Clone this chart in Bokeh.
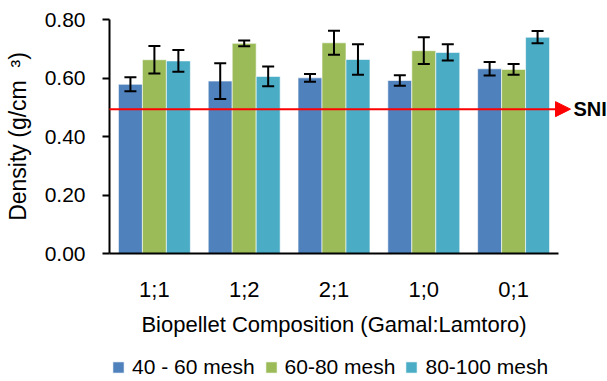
from bokeh.plotting import figure
from bokeh.models import (Range1d, FixedTicker, NumeralTickFormatter, ColumnDataSource,
                          Whisker, TeeHead, Arrow, NormalHead, Label, Legend, LegendItem)
from bokeh.embed import file_html
from bokeh.resources import INLINE

# ---- data ----
categories = ["1;1", "1;2", "2;1", "1;0", "0;1"]
series_names = ["40 - 60 mesh", "60-80 mesh", "80-100 mesh"]
mesh_40_60 = [0.580, 0.591, 0.602, 0.593, 0.633]
mesh_40_60_err = [0.024, 0.061, 0.013, 0.018, 0.023]
mesh_60_80 = [0.664, 0.720, 0.722, 0.695, 0.631]
mesh_60_80_err = [0.047, 0.010, 0.041, 0.046, 0.018]
mesh_80_100 = [0.660, 0.607, 0.665, 0.689, 0.741]
mesh_80_100_err = [0.037, 0.034, 0.052, 0.028, 0.021]
sni_value = 0.495
y_ticks = [0.0, 0.2, 0.4, 0.6, 0.8]

colors = ["#4F81BD", "#9BBB59", "#4BACC6"]
FONT = "Liberation Sans"

# frame covers the whole canvas; axes are pinned at x=0.5 and y=0
p = figure(width=607, height=381, title=None,
           x_range=Range1d(-0.7138, 6.0457), y_range=Range1d(-0.4370, 0.8667),
           output_backend="svg", toolbar_location=None,
           min_border_left=0, min_border_right=0, min_border_top=0, min_border_bottom=0)
p.outline_line_color = None
p.xgrid.visible = False
p.ygrid.visible = False
p.background_fill_color = "white"

bar_w = 0.267
offsets = [-bar_w, 0.0, bar_w]
all_vals = [mesh_40_60, mesh_60_80, mesh_80_100]
all_errs = [mesh_40_60_err, mesh_60_80_err, mesh_80_100_err]
renderers = []
for i in range(3):
    xs = [k + 1 + offsets[i] for k in range(len(categories))]
    vals = all_vals[i]
    errs = all_errs[i]
    src = ColumnDataSource(dict(x=xs, top=vals,
                                upper=[v + e for v, e in zip(vals, errs)],
                                lower=[v - e for v, e in zip(vals, errs)]))
    r = p.vbar(x="x", top="top", width=bar_w, bottom=0, source=src,
               fill_color=colors[i], line_color="white", line_width=1, line_alpha=0.6)
    renderers.append(r)
    w = Whisker(base="x", upper="upper", lower="lower", source=src, level="annotation",
                line_color="black", line_width=2,
                upper_head=TeeHead(size=12, line_color="black", line_width=2),
                lower_head=TeeHead(size=12, line_color="black", line_width=2))
    p.add_layout(w)

# SNI reference arrow
arrow = Arrow(x_start=0.5, y_start=sni_value, x_end=5.634, y_end=sni_value,
              line_color="#FF0000", line_width=2, level="annotation",
              end=NormalHead(size=15, fill_color="#FF0000", line_color="#FF0000"))
p.add_layout(arrow)
p.add_layout(Label(x=5.667, y=sni_value, text="SNI", text_font=FONT, text_font_size="20px",
                   text_font_style="bold", text_baseline="middle", text_align="left",
                   text_color="black"))

# axes
p.yaxis.fixed_location = 0.5
p.yaxis.bounds = (0, 0.8)
p.yaxis.ticker = FixedTicker(ticks=y_ticks)
p.yaxis.formatter = NumeralTickFormatter(format="0.00")
p.yaxis.axis_label = "Density (g/cm\u00a0 \u00b3)"
p.yaxis.axis_line_width = 2
p.yaxis.major_tick_line_width = 2
p.yaxis.major_tick_out = 7
p.yaxis.major_tick_in = 0
p.yaxis.minor_tick_line_color = None
p.yaxis.major_label_standoff = 17
p.yaxis.axis_label_standoff = 11

p.xaxis.fixed_location = 0
p.xaxis.bounds = (0.5, 5.5)
p.xaxis.ticker = FixedTicker(ticks=[1, 2, 3, 4, 5])
p.xaxis.major_label_overrides = {k + 1: c for k, c in enumerate(categories)}
p.xaxis.axis_label = "Biopellet Composition (Gamal:Lamtoro)"
p.xaxis.axis_line_width = 2
p.xaxis.minor_tick_line_color = None
p.xaxis.major_tick_out = 0
p.xaxis.major_label_standoff = 23
p.xaxis.axis_label_standoff = 7

for ax in (p.xaxis, p.yaxis):
    ax.major_label_text_font = FONT
    ax.axis_label_text_font = FONT
    ax.axis_label_text_font_style = "normal"
    ax.major_label_text_color = "black"
    ax.axis_label_text_color = "black"
    ax.axis_line_color = "black"
p.xaxis.axis_label_text_font_size = "22px"
p.yaxis.axis_label_text_font_size = "23px"
p.yaxis.major_tick_line_color = "black"
p.xaxis.major_tick_line_color = None
p.yaxis.major_label_text_font_size = "21px"
p.xaxis.major_label_text_font_size = "22px"

legend = Legend(items=[LegendItem(label=series_names[i], renderers=[renderers[i]]) for i in range(3)],
                orientation="horizontal", location=(111, 2),
                label_text_font=FONT, label_text_font_size="21px", label_text_color="black",
                glyph_width=14, glyph_height=14, label_standoff=7, spacing=9,
                padding=0, margin=0, border_line_color=None, background_fill_alpha=0)
p.add_layout(legend, "center")

open("out.html", "w").write(file_html(p, INLINE))
